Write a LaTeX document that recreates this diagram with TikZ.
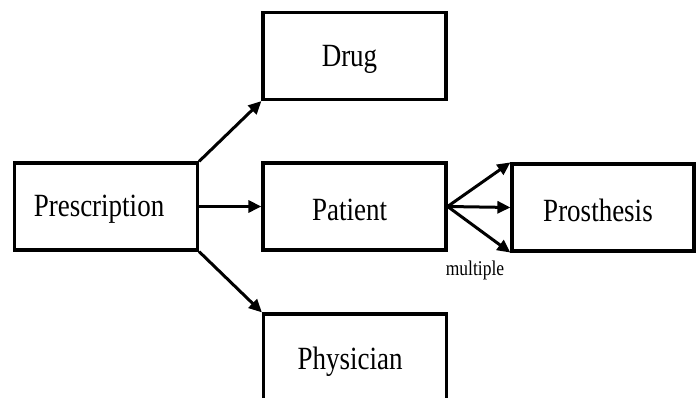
\documentclass[tikz,border=0pt]{standalone}
\usepackage{graphicx}
\usepackage{fontspec}
\setmainfont{Liberation Serif}
\usetikzlibrary{arrows.meta}
\newcommand{\tallt}[2][10pt]{\hspace*{-#1}\raisebox{-3pt}[\height][\depth]{\scalebox{1}[1.2]{#2}}}
\begin{document}
\begin{tikzpicture}[x=1pt,y=1pt,
  entity/.style={draw=black, line width=3.2pt, rectangle, inner sep=0pt,
    minimum width=183pt, minimum height=87pt, font=\fontsize{27}{30}\selectfont},
  link/.style={line width=3pt, -{Triangle[length=13pt,width=12pt]}},
  lbl/.style={font=\fontsize{17.5}{20}\selectfont, inner sep=0pt}]
\clip (0,0) rectangle (697,398);
\fill[white] (0,0) rectangle (697,398);
\node[entity] (presc) at (106,191.5) {\tallt[14pt]{Prescription}};
\node[entity] (drug) at (354.5,342) {\tallt{Drug}};
\node[entity] (patient) at (354.5,191.5) {\tallt{Patient}};
\node[entity, minimum width=182pt] (prosth) at (603,190.5) {\tallt{Prosthesis}};
\node[entity, minimum height=90pt] (phys) at (355,39) {\tallt{Physician}};
\draw[link] (presc.north east) -- (drug.south west);
\draw[link] (presc.east) -- (patient.west);
\draw[link] (presc.south east) -- (phys.north west);
\coordinate (fan) at (patient.east);
\draw[link] (fan) -- (prosth.north west);
\draw[link] (fan) -- (prosth.west);
\draw[link] (fan) -- (prosth.south west);
\node[lbl] (mult) at (475,131) {\tallt[0pt]{multiple}};
\end{tikzpicture}
\end{document}
